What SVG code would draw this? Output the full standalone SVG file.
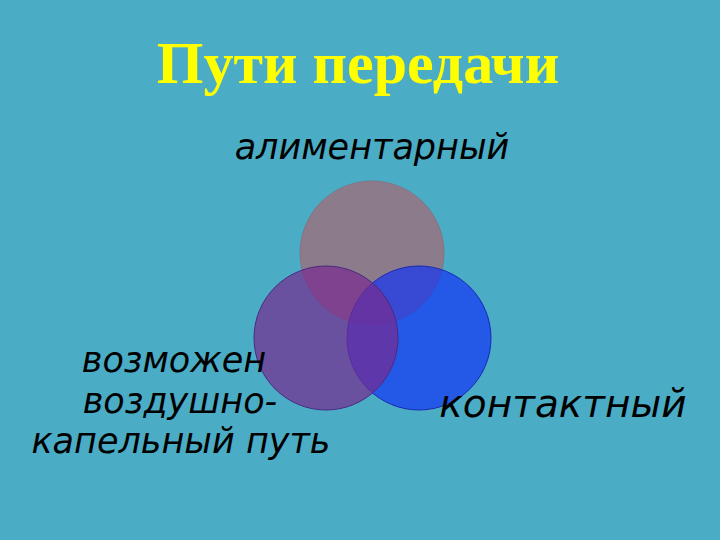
<svg xmlns="http://www.w3.org/2000/svg" width="720" height="540" viewBox="0 0 720 540">
<style>
.t{font-family:"DejaVu Sans","Noto Sans",sans-serif;font-style:italic;fill:#000;}
.title{font-family:"Liberation Serif","DejaVu Serif",serif;font-weight:bold;fill:#FFFF00;}
.c{stroke-width:1;}
</style>
<rect width="720" height="540" fill="#4BACC6"/>
<text class="title" x="358" y="83" font-size="60" text-anchor="middle">Пути передачи</text>
<g id="circles">
<g id="top"><circle class="c" cx="372" cy="253" r="72" fill="#A86770" fill-opacity="0.7" stroke="#8a6a7a" stroke-opacity="0.7"/></g>
<g id="right"><circle class="c" cx="419" cy="338" r="72" fill="#1434F4" fill-opacity="0.7" stroke="#1a2ab0"/></g>
<g id="left"><circle class="c" cx="326" cy="338" r="72" fill="#782B90" fill-opacity="0.7" stroke="#4a2a80"/></g>
</g>
<g id="labels">
<text class="t" x="372" y="159" font-size="35" text-anchor="middle">алиментарный</text>
<text class="t" x="563" y="417" font-size="39" text-anchor="middle">контактный</text>
<text class="t" x="174" y="372" font-size="35" text-anchor="middle">возможен</text>
<text class="t" x="180" y="413" font-size="35" text-anchor="middle">воздушно-</text>
<text class="t" x="181" y="453" font-size="35" text-anchor="middle">капельный путь</text>
</g>
</svg>
